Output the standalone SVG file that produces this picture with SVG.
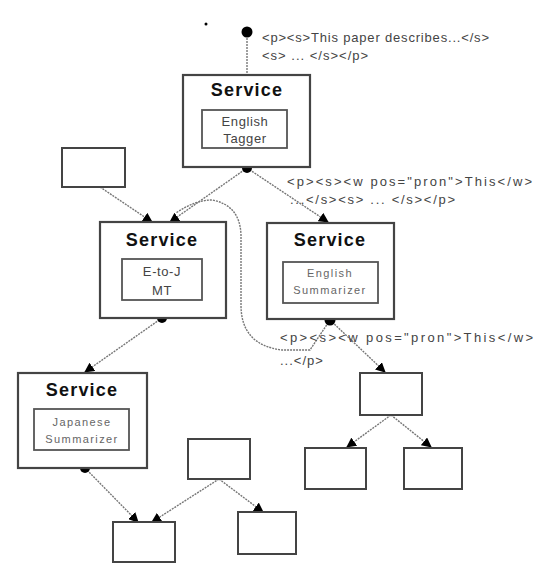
<svg xmlns="http://www.w3.org/2000/svg" width="537" height="563" viewBox="0 0 537 563">
<defs>
<style>
.box{fill:#fff;stroke:#444;stroke-width:2.2}
.inner{fill:#fff;stroke:#555;stroke-width:1.8}
.blank{fill:#fff;stroke:#444;stroke-width:2}
.svc{font-family:"Liberation Sans",Arial,sans-serif;font-weight:bold;font-size:18px;letter-spacing:1.2px;fill:#111;text-anchor:middle}
.in{font-family:"Liberation Sans",Arial,sans-serif;font-size:13px;letter-spacing:0.6px;fill:#444;text-anchor:middle}
.ins{font-family:"Liberation Sans",Arial,sans-serif;font-size:11px;letter-spacing:1.4px;fill:#666;text-anchor:middle}
.lbl{font-family:"Liberation Sans",Arial,sans-serif;font-size:13px;letter-spacing:1px;fill:#444}
.conn{fill:none;stroke:#777;stroke-width:1.4;stroke-dasharray:2 1}
.dot{fill:#000}
</style>
<marker id="arr" viewBox="0 0 10 10" refX="9" refY="5" markerWidth="10" markerHeight="10" markerUnits="userSpaceOnUse" orient="auto">
<path d="M0,0 L10,5 L0,10 z" fill="#000"/>
</marker>
</defs>
<rect width="537" height="563" fill="#fff"/>
<circle cx="206" cy="24" r="1.5" fill="#000"/>

<g id="connectors">
<line class="conn" x1="247" y1="32" x2="247" y2="75"/>
<line class="conn" x1="247" y1="168" x2="170" y2="222" marker-end="url(#arr)"/>
<line class="conn" x1="247" y1="168" x2="328" y2="222" marker-end="url(#arr)"/>
<line class="conn" x1="100" y1="187" x2="152" y2="222" marker-end="url(#arr)"/>
<path class="conn" d="M330,320 L310,350 L282,350 Q241,345 241,305 L241,235 Q240,205 212,200 Q195,200 176,213"/>
<line class="conn" x1="162" y1="318" x2="85" y2="372" marker-end="url(#arr)"/>
<line class="conn" x1="330" y1="320" x2="385" y2="372" marker-end="url(#arr)"/>
<line class="conn" x1="391" y1="415" x2="347" y2="447" marker-end="url(#arr)"/>
<line class="conn" x1="391" y1="415" x2="431" y2="447" marker-end="url(#arr)"/>
<line class="conn" x1="85" y1="468" x2="138" y2="522" marker-end="url(#arr)"/>
<line class="conn" x1="219" y1="479" x2="152" y2="522" marker-end="url(#arr)"/>
<line class="conn" x1="219" y1="479" x2="263" y2="512" marker-end="url(#arr)"/>
<circle class="dot" cx="247" cy="32" r="5.5"/>
<circle class="dot" cx="247" cy="168" r="5"/>
<circle class="dot" cx="162" cy="318" r="5"/>
<circle class="dot" cx="330" cy="320" r="5.5"/>
<circle class="dot" cx="85" cy="468" r="5"/>
</g>

<g id="label-1">
<text class="lbl" x="262" y="42" textLength="228">&lt;p&gt;&lt;s&gt;This paper describes...&lt;/s&gt;</text>
<text class="lbl" x="262" y="60">&lt;s&gt; ... &lt;/s&gt;&lt;/p&gt;</text>
</g>
<g id="label-2">
<text class="lbl" x="287" y="186" textLength="246">&lt;p&gt;&lt;s&gt;&lt;w pos="pron"&gt;This&lt;/w&gt;</text>
<text class="lbl" x="290" y="204" textLength="166">...&lt;/s&gt;&lt;s&gt; ... &lt;/s&gt;&lt;/p&gt;</text>
</g>
<g id="label-3">
<text class="lbl" x="280" y="342" textLength="254">&lt;p&gt;&lt;s&gt;&lt;w pos="pron"&gt;This&lt;/w&gt;</text>
<text class="lbl" x="280" y="365">...&lt;/p&gt;</text>
</g>

<g id="svc-tagger">
<rect class="box" x="183" y="75" width="127" height="92"/>
<text class="svc" x="247" y="96">Service</text>
<rect class="inner" x="202" y="110" width="85" height="38"/>
<text class="in" x="245" y="126">English</text>
<text class="in" x="245" y="143">Tagger</text>
</g>

<g id="blank-top-left">
<rect class="blank" x="62" y="148" width="63" height="39"/>
</g>

<g id="svc-mt">
<rect class="box" x="100" y="222" width="126" height="96"/>
<text class="svc" x="162" y="246">Service</text>
<rect class="inner" x="122" y="259" width="80" height="41"/>
<text class="in" x="162" y="276">E-to-J</text>
<text class="in" x="162" y="295">MT</text>
</g>

<g id="svc-eng-sum">
<rect class="box" x="267" y="223" width="127" height="96"/>
<text class="svc" x="330" y="246">Service</text>
<rect class="inner" x="283" y="262" width="95" height="41"/>
<text class="ins" x="330" y="277">English</text>
<text class="ins" x="330" y="294">Summarizer</text>
</g>

<g id="svc-jp-sum">
<rect class="box" x="18" y="373" width="129" height="95"/>
<text class="svc" x="82" y="396">Service</text>
<rect class="inner" x="34" y="409" width="95" height="41"/>
<text class="ins" x="82" y="426">Japanese</text>
<text class="ins" x="82" y="443">Summarizer</text>
</g>

<g id="blank-er-1"><rect class="blank" x="360" y="373" width="62" height="42"/></g>
<g id="blank-er-2"><rect class="blank" x="305" y="448" width="61" height="41"/></g>
<g id="blank-er-3"><rect class="blank" x="404" y="448" width="58" height="41"/></g>
<g id="blank-mid"><rect class="blank" x="188" y="439" width="62" height="40"/></g>
<g id="blank-bot-left"><rect class="blank" x="113" y="522" width="62" height="40"/></g>
<g id="blank-bot-right"><rect class="blank" x="238" y="512" width="58" height="42"/></g>
</svg>
